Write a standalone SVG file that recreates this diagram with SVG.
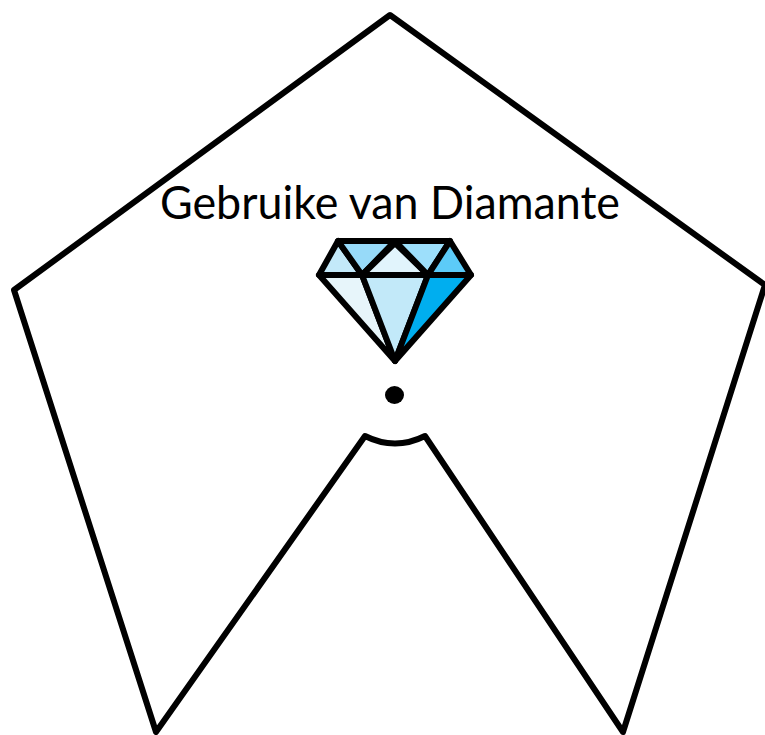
<svg xmlns="http://www.w3.org/2000/svg" width="765" height="735" viewBox="0 0 765 735">
<style>
.o{fill:none;stroke:#000;stroke-width:6;stroke-linecap:round;stroke-linejoin:round}
.d{stroke:#000;stroke-width:6;stroke-linejoin:round}
.t{font-family:"Lato","Liberation Sans",sans-serif;font-size:46px;fill:#000}
</style>
<rect width="765" height="735" fill="#fff"/>
<g id="outline">
<path class="o" d="M390 15L765 285L623 732L425 436Q395 451 365 436L156 732L14 290Z"/>
</g>
<g id="label"><text class="t" x="160" y="219" textLength="460" lengthAdjust="spacingAndGlyphs">Gebruike van Diamante</text></g>
<g id="diamond">
<path class="d" fill="#c3e9f9" d="M338 241L319 275L362 275Z"/>
<path class="d" fill="#97daf9" d="M338 241L395 241L362 275Z"/>
<path class="d" fill="#e1f4fc" d="M395 243L362 275L428 275Z"/>
<path class="d" fill="#9ddffb" d="M395 241L450 241L428 275Z"/>
<path class="d" fill="#5ccbf8" d="M450 241L471 275L428 275Z"/>
<path class="d" fill="#e7f5fa" d="M319 275L362 275L395 361Z"/>
<path class="d" fill="#c2e9f9" d="M362 275L428 275L395 361Z"/>
<path class="d" fill="#00aeef" d="M428 275L471 275L395 361Z"/>
</g>
<g id="dot"><ellipse cx="394.500" cy="395" rx="9.500" ry="9" fill="#000"/></g>
</svg>
